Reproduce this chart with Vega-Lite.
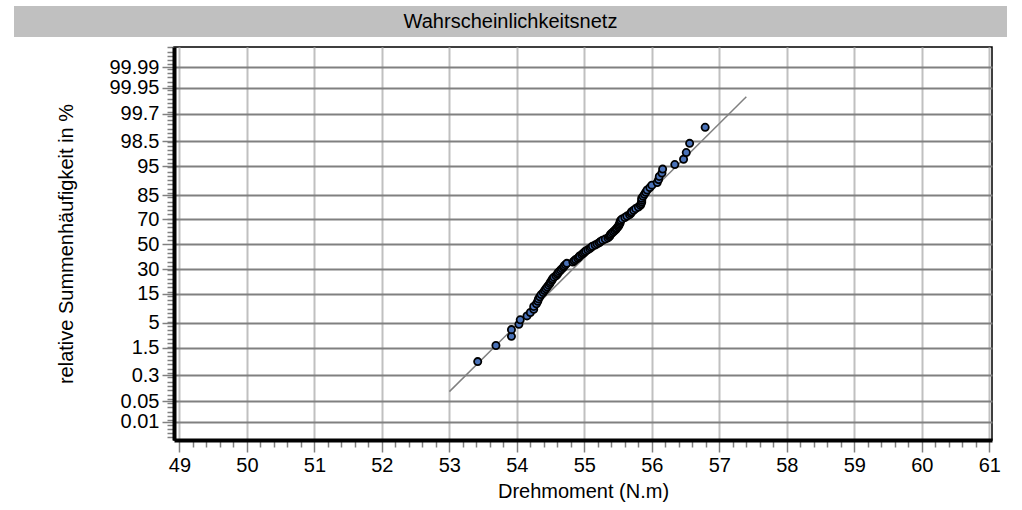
{
  "$schema": "https://vega.github.io/schema/vega-lite/v6.json",
  "background": "white",
  "padding": {"left": 14, "top": 6, "right": 5, "bottom": 4},
  "bounds": "flush",
  "spacing": 10,
  "config": {"font": "Liberation Sans", "view": {"stroke": null}},
  "vconcat": [
    {
      "width": 993,
      "height": 31,
      "view": {"fill": "#c0c0c0", "stroke": null},
      "data": {"values": [{"titel": "Wahrscheinlichkeitsnetz"}]},
      "mark": {"type": "text", "fontSize": 20, "font": "Liberation Sans", "color": "black"},
      "encoding": {"text": {"field": "titel"}}
    },
    {
      "bounds": "flush",
      "spacing": 0,
      "hconcat": [
        {
          "width": 160,
          "height": 10,
          "view": {"stroke": null},
          "data": {"values": [{"leer": ""}]},
          "mark": {"type": "text"},
          "encoding": {"text": {"field": "leer"}}
        },
        {
          "width": 818,
          "height": 393,
          "view": {"stroke": "black", "strokeWidth": 1.5},
          "encoding": {
            "x": {
              "field": "drehmoment",
              "type": "quantitative",
              "scale": {"domain": [48.92, 61.04], "nice": false, "zero": false},
              "axis": {
                "title": "Drehmoment (N.m)",
                "values": [49, 49.2, 49.4, 49.6, 49.8, 50, 50.2, 50.4, 50.6, 50.8, 51, 51.2, 51.4, 51.6, 51.8, 52, 52.2, 52.4, 52.6, 52.8, 53, 53.2, 53.4, 53.6, 53.8, 54, 54.2, 54.4, 54.6, 54.8, 55, 55.2, 55.4, 55.6, 55.8, 56, 56.2, 56.4, 56.6, 56.8, 57, 57.2, 57.4, 57.6, 57.8, 58, 58.2, 58.4, 58.6, 58.8, 59, 59.2, 59.4, 59.6, 59.8, 60, 60.2, 60.4, 60.6, 60.8, 61],
                "labelExpr": "datum.value % 1 === 0 ? format(datum.value, 'd') : ''",
                "tickSize": {"condition": {"test": "datum.value % 1 === 0", "value": 12}, "value": 7},
                "gridOpacity": {"condition": {"test": "datum.value % 1 === 0", "value": 1}, "value": 0},
                "grid": true,
                "gridColor": "#c0c0c0",
                "gridWidth": 2,
                "domainColor": "black",
                "domainWidth": 4,
                "tickColor": "#808080",
                "tickWidth": 1.5,
                "labelFontSize": 20,
                "labelFont": "Liberation Sans",
                "labelColor": "black",
                "labelPadding": 3,
                "labelOverlap": false,
                "labelFlush": false,
                "titleFontSize": 20,
                "titleFont": "Liberation Sans",
                "titleFontWeight": "normal",
                "titleColor": "black",
                "titlePadding": 6
              }
            },
            "y": {
              "field": "z",
              "type": "quantitative",
              "scale": {"domain": [-4.105, 4.145], "nice": false, "zero": false},
              "axis": {
                "title": "relative Summenhäufigkeit in %",
                "values": [-3.719016, -3.290527, -2.747781, -2.17009, -1.644854, -1.036433, -0.524401, 0, 0.524401, 1.036433, 1.644854, 2.17009, 2.747781, 3.290527, 3.719016, -4.05, -3.96, -3.87, -3.78, -3.69, -3.6, -3.51, -3.42, -3.33, -3.24, -3.15, -3.06, -2.97, -2.88, -2.79, -2.7, -2.61, -2.52, -2.43, -2.34, -2.25, -2.16, -2.07, -1.98, -1.89, -1.8, -1.71, -1.62, -1.53, -1.44, -1.35, -1.26, -1.17, -1.08, -0.99, -0.9, -0.81, -0.72, -0.63, -0.54, -0.45, -0.36, -0.27, -0.18, -0.09, 0.09, 0.18, 0.27, 0.36, 0.45, 0.54, 0.63, 0.72, 0.81, 0.9, 0.99, 1.08, 1.17, 1.26, 1.35, 1.44, 1.53, 1.62, 1.71, 1.8, 1.89, 1.98, 2.07, 2.16, 2.25, 2.34, 2.43, 2.52, 2.61, 2.7, 2.79, 2.88, 2.97, 3.06, 3.15, 3.24, 3.33, 3.42, 3.51, 3.6, 3.69, 3.78, 3.87, 3.96, 4.05, 4.14],
                "labelExpr": "indexof([-3.719016, -3.290527, -2.747781, -2.17009, -1.644854, -1.036433, -0.524401, 0, 0.524401, 1.036433, 1.644854, 2.17009, 2.747781, 3.290527, 3.719016], datum.value) >= 0 ? format(cumulativeNormal(datum.value) * 100, '.4~r') : ''",
                "tickSize": {"condition": {"test": "indexof([-3.719016, -3.290527, -2.747781, -2.17009, -1.644854, -1.036433, -0.524401, 0, 0.524401, 1.036433, 1.644854, 2.17009, 2.747781, 3.290527, 3.719016], datum.value) >= 0", "value": 12}, "value": 7},
                "gridOpacity": {"condition": {"test": "indexof([-3.719016, -3.290527, -2.747781, -2.17009, -1.644854, -1.036433, -0.524401, 0, 0.524401, 1.036433, 1.644854, 2.17009, 2.747781, 3.290527, 3.719016], datum.value) >= 0", "value": 1}, "value": 0},
                "grid": true,
                "gridColor": "#808080",
                "gridWidth": 2,
                "domainColor": "black",
                "domainWidth": 4,
                "tickColor": "#808080",
                "tickWidth": 1.5,
                "labelFontSize": 20,
                "labelFont": "Liberation Sans",
                "labelColor": "black",
                "labelPadding": 3,
                "labelOverlap": false,
                "labelFlush": false,
                "titleFontSize": 20,
                "titleFont": "Liberation Sans",
                "titleFontWeight": "normal",
                "titleColor": "black",
                "titlePadding": 32
              }
            }
          },
          "layer": [
            {
              "data": {"values": [{"drehmoment": 53.0, "z": -3.09}, {"drehmoment": 57.4, "z": 3.1}]},
              "mark": {"type": "line", "color": "#808080", "strokeWidth": 1.5}
            },
            {
              "data": {"values": [
                {"drehmoment": 53.42, "z": -2.459}, {"drehmoment": 53.69, "z": -2.122}, {"drehmoment": 53.92, "z": -1.929}, {"drehmoment": 53.92, "z": -1.788}, {"drehmoment": 54.03, "z": -1.677},
                {"drehmoment": 54.05, "z": -1.582}, {"drehmoment": 54.15, "z": -1.5}, {"drehmoment": 54.2, "z": -1.428}, {"drehmoment": 54.25, "z": -1.361}, {"drehmoment": 54.25, "z": -1.301},
                {"drehmoment": 54.29, "z": -1.245}, {"drehmoment": 54.31, "z": -1.193}, {"drehmoment": 54.32, "z": -1.143}, {"drehmoment": 54.34, "z": -1.097}, {"drehmoment": 54.36, "z": -1.052},
                {"drehmoment": 54.39, "z": -1.01}, {"drehmoment": 54.41, "z": -0.969}, {"drehmoment": 54.43, "z": -0.93}, {"drehmoment": 54.45, "z": -0.892}, {"drehmoment": 54.47, "z": -0.855},
                {"drehmoment": 54.49, "z": -0.82}, {"drehmoment": 54.5, "z": -0.785}, {"drehmoment": 54.52, "z": -0.752}, {"drehmoment": 54.53, "z": -0.719}, {"drehmoment": 54.55, "z": -0.687},
                {"drehmoment": 54.58, "z": -0.656}, {"drehmoment": 54.6, "z": -0.625}, {"drehmoment": 54.61, "z": -0.595}, {"drehmoment": 54.63, "z": -0.566}, {"drehmoment": 54.65, "z": -0.536},
                {"drehmoment": 54.67, "z": -0.508}, {"drehmoment": 54.69, "z": -0.48}, {"drehmoment": 54.7, "z": -0.452}, {"drehmoment": 54.72, "z": -0.424}, {"drehmoment": 54.74, "z": -0.397},
                {"drehmoment": 54.83, "z": -0.37}, {"drehmoment": 54.85, "z": -0.344}, {"drehmoment": 54.87, "z": -0.318}, {"drehmoment": 54.9, "z": -0.292}, {"drehmoment": 54.92, "z": -0.266},
                {"drehmoment": 54.93, "z": -0.24}, {"drehmoment": 54.96, "z": -0.214}, {"drehmoment": 54.98, "z": -0.189}, {"drehmoment": 55.0, "z": -0.163}, {"drehmoment": 55.02, "z": -0.138},
                {"drehmoment": 55.05, "z": -0.113}, {"drehmoment": 55.08, "z": -0.088}, {"drehmoment": 55.1, "z": -0.062}, {"drehmoment": 55.12, "z": -0.037}, {"drehmoment": 55.16, "z": -0.012},
                {"drehmoment": 55.19, "z": 0.012}, {"drehmoment": 55.22, "z": 0.037}, {"drehmoment": 55.24, "z": 0.062}, {"drehmoment": 55.27, "z": 0.088}, {"drehmoment": 55.31, "z": 0.113},
                {"drehmoment": 55.35, "z": 0.138}, {"drehmoment": 55.37, "z": 0.163}, {"drehmoment": 55.38, "z": 0.189}, {"drehmoment": 55.39, "z": 0.214}, {"drehmoment": 55.41, "z": 0.24},
                {"drehmoment": 55.43, "z": 0.266}, {"drehmoment": 55.45, "z": 0.292}, {"drehmoment": 55.47, "z": 0.318}, {"drehmoment": 55.48, "z": 0.344}, {"drehmoment": 55.5, "z": 0.37},
                {"drehmoment": 55.51, "z": 0.397}, {"drehmoment": 55.52, "z": 0.424}, {"drehmoment": 55.53, "z": 0.452}, {"drehmoment": 55.53, "z": 0.48}, {"drehmoment": 55.54, "z": 0.508},
                {"drehmoment": 55.56, "z": 0.536}, {"drehmoment": 55.6, "z": 0.566}, {"drehmoment": 55.63, "z": 0.595}, {"drehmoment": 55.67, "z": 0.625}, {"drehmoment": 55.69, "z": 0.656},
                {"drehmoment": 55.7, "z": 0.687}, {"drehmoment": 55.73, "z": 0.719}, {"drehmoment": 55.76, "z": 0.752}, {"drehmoment": 55.8, "z": 0.785}, {"drehmoment": 55.83, "z": 0.82},
                {"drehmoment": 55.84, "z": 0.855}, {"drehmoment": 55.85, "z": 0.892}, {"drehmoment": 55.85, "z": 0.93}, {"drehmoment": 55.85, "z": 0.969}, {"drehmoment": 55.87, "z": 1.01},
                {"drehmoment": 55.89, "z": 1.052}, {"drehmoment": 55.91, "z": 1.097}, {"drehmoment": 55.93, "z": 1.143}, {"drehmoment": 55.97, "z": 1.193}, {"drehmoment": 56.0, "z": 1.245},
                {"drehmoment": 56.08, "z": 1.301}, {"drehmoment": 56.1, "z": 1.361}, {"drehmoment": 56.11, "z": 1.428}, {"drehmoment": 56.15, "z": 1.5}, {"drehmoment": 56.16, "z": 1.582},
                {"drehmoment": 56.34, "z": 1.677}, {"drehmoment": 56.47, "z": 1.788}, {"drehmoment": 56.51, "z": 1.929}, {"drehmoment": 56.56, "z": 2.122}, {"drehmoment": 56.79, "z": 2.459}
              ]},
              "mark": {"type": "circle", "fill": "#4a72b8", "stroke": "black", "strokeWidth": 1.8, "size": 52, "opacity": 1}
            }
          ]
        }
      ]
    }
  ]
}
